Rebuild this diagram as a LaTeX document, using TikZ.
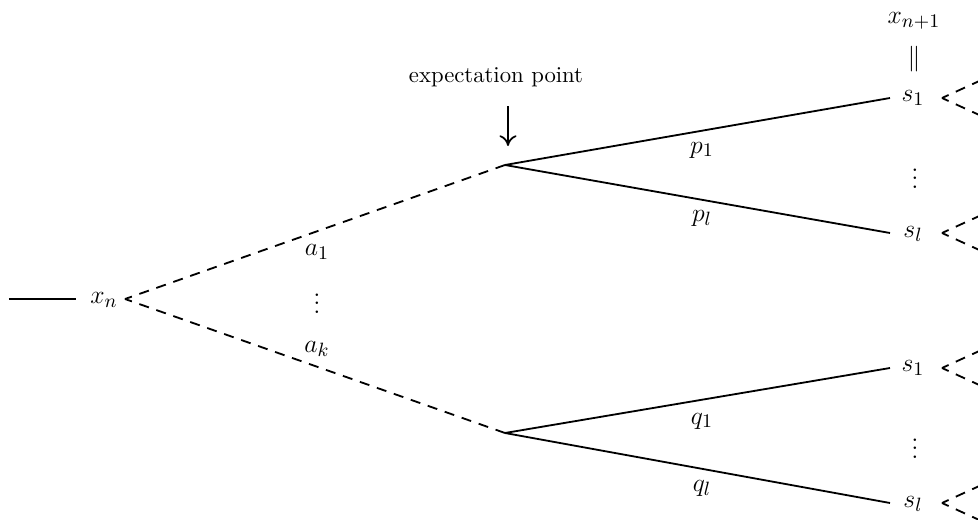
\documentclass[tikz,border=0pt]{standalone}
\usetikzlibrary{arrows.meta}
\begin{document}
\begin{tikzpicture}[x=0.467pt,y=-0.467pt,
  line width=0.85pt,
  lbl/.style={inner sep=0pt, font=\fontsize{12.3pt}{14pt}\selectfont},
  txt/.style={inner sep=0pt, font=\fontsize{10.6pt}{13pt}\selectfont},
  dsh/.style={dash pattern=on 4.7pt off 3.7pt, dash phase=1.3pt},
  solid line/.style={line width=0.85pt},
  downarr/.style={-{Computer Modern Rightarrow[width=8pt,length=5pt]}, line width=0.8pt}
  ]
\useasboundingbox (0,0) rectangle (978,520);
\clip (0,0) rectangle (978,520);

% left part
\coordinate (lstart) at (9,299);
\coordinate (lend) at (76,299);
\node[lbl] (xn) at (104,300) {$x_n$};
\coordinate (v0) at (125,299);
\draw[solid line] (lstart) -- (lend);

% expectation points
\coordinate (e1) at (505,165);
\coordinate (e2) at (505,433);
\draw[dsh] (v0) -- (e1);
\draw[dsh] (v0) -- (e2);

\node[lbl] (a1) at (317,252) {$a_1$};
\node[lbl] (avd) at (317,297) {$\vdots$};
\node[lbl] (ak) at (317,349) {$a_k$};

% label and arrow
\node[txt] (exptext) at (496,77) {expectation point};
\coordinate (at1) at (508,106);
\coordinate (at2) at (508,146);
\draw[downarr] (at1) -- (at2);

% branch end points
\coordinate (u1) at (890,98);
\coordinate (u2) at (890,233);
\coordinate (w1) at (890,368);
\coordinate (w2) at (890,503);
\draw[solid line] (e1) -- (u1);
\draw[solid line] (e1) -- (u2);
\draw[solid line] (e2) -- (w1);
\draw[solid line] (e2) -- (w2);

\node[lbl] (p1) at (702,150) {$p_1$};
\node[lbl] (pl) at (702,218) {$p_l$};
\node[lbl] (q1) at (702,421) {$q_1$};
\node[lbl] (ql) at (702,488) {$q_l$};

% right column
\node[lbl] (xn1) at (914,21) {$x_{n+1}$};
\node[lbl] (eq) at (914,59) {$\|$};
\node[lbl] (s1a) at (913,98) {$s_1$};
\node[lbl] (vda) at (915,172) {$\vdots$};
\node[lbl] (sla) at (913,234) {$s_l$};
\node[lbl] (s1b) at (913,368) {$s_1$};
\node[lbl] (vdb) at (915,442) {$\vdots$};
\node[lbl] (slb) at (913,504) {$s_l$};

% outgoing dashed pairs at right
\foreach \n/\yy in {ra/98, rb/233, rc/368, rd/503}{
  \coordinate (\n) at (942,\yy);
  \coordinate (\n up) at (1010,\yy-31);
  \coordinate (\n dn) at (1010,\yy+31);
  \draw[dsh] (\n) -- (\n up);
  \draw[dsh] (\n) -- (\n dn);
}
\end{tikzpicture}
\end{document}
